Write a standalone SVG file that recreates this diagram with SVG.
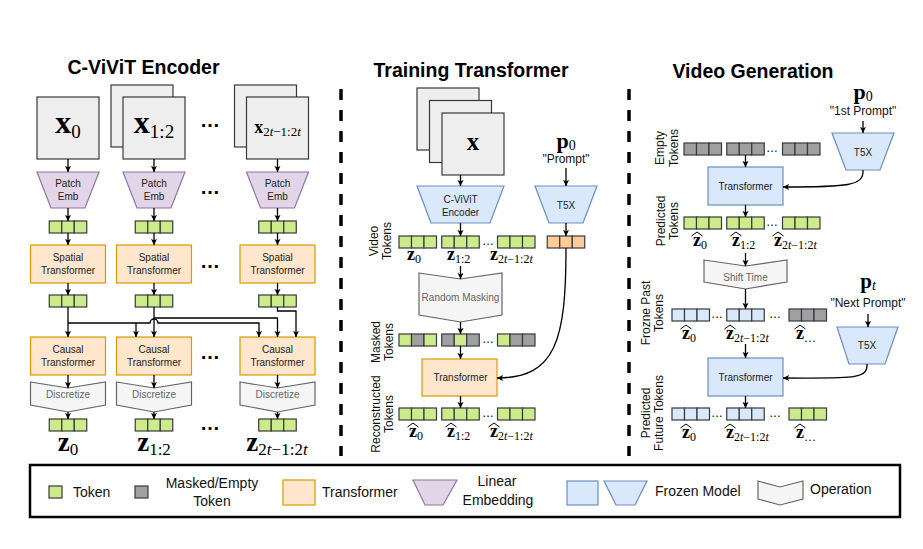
<svg xmlns="http://www.w3.org/2000/svg" width="923" height="549" viewBox="0 0 923 549">
<style>
.ttl{font-family:"Liberation Sans",Arial,sans-serif;font-weight:bold;font-size:19.5px;fill:#000;text-anchor:middle}
.t{font-family:"Liberation Sans",Arial,sans-serif;font-size:10px;fill:#222;text-anchor:middle}
.op{fill:#666}
.pr{font-family:"Liberation Sans",Arial,sans-serif;font-size:12px;fill:#111;text-anchor:middle}
.rl{font-family:"Liberation Sans",Arial,sans-serif;font-size:12px;fill:#111;text-anchor:middle}
.lg{font-family:"Liberation Sans",Arial,sans-serif;font-size:14px;fill:#111}
.mz{font-family:"Liberation Serif","Times New Roman",serif;font-weight:bold;font-size:18px;fill:#000}
.sb{font-weight:normal;font-size:12px}
.it{font-style:italic}
.dots{font-family:"Liberation Sans",Arial,sans-serif;font-weight:bold;font-size:20px;fill:#000;text-anchor:middle}
.sdots{font-family:"Liberation Sans",Arial,sans-serif;font-size:12px;fill:#000;text-anchor:middle}
.img{fill:#eeeeee;stroke:#36393d;stroke-width:1.2}
.cg{fill:#cdeb8b;stroke:#36393d;stroke-width:1.2}
.ck{fill:#a0a0a0;stroke:#36393d;stroke-width:1.2}
.cb{fill:#dae8fc;stroke:#36393d;stroke-width:1.2}
.co{fill:#ffcc99;stroke:#36393d;stroke-width:1.2}
.tr{fill:#ffe6cc;stroke:#d79b00;stroke-width:1.2}
.pe{fill:#e1d5e7;stroke:#9673a6;stroke-width:1.2}
.fz{fill:#dae8fc;stroke:#6c8ebf;stroke-width:1.2}
.opn{fill:#f5f5f5;stroke:#666666;stroke-width:1.2}
.ln{fill:none;stroke:#000;stroke-width:1.3;marker-end:url(#ah)}
.hat{fill:none;stroke:#000;stroke-width:1}
.sep{stroke:#000;stroke-width:3.5;stroke-dasharray:11 10}
</style>
<defs>
<marker id="ah" markerUnits="userSpaceOnUse" markerWidth="7" markerHeight="7" refX="6" refY="3" orient="auto">
<path d="M0,0 L6,3 L0,6 L1.2,3 z" fill="#000"/>
</marker>
<g id="tg"><rect class="cg" x="0" y="0" width="12.5" height="12"/><rect class="cg" x="12.5" y="0" width="12.5" height="12"/><rect class="cg" x="25" y="0" width="12.5" height="12"/></g>
<g id="tk"><rect class="ck" x="0" y="0" width="12.5" height="12"/><rect class="ck" x="12.5" y="0" width="12.5" height="12"/><rect class="ck" x="25" y="0" width="12.5" height="12"/></g>
<g id="tb"><rect class="cb" x="0" y="0" width="12.5" height="12"/><rect class="cb" x="12.5" y="0" width="12.5" height="12"/><rect class="cb" x="25" y="0" width="12.5" height="12"/></g>
<g id="to"><rect class="co" x="0" y="0" width="12.5" height="12"/><rect class="co" x="12.5" y="0" width="12.5" height="12"/><rect class="co" x="25" y="0" width="12.5" height="12"/></g>
<rect id="c1g" class="cg" x="0" y="0" width="12.5" height="12"/>
<rect id="c1k" class="ck" x="0" y="0" width="12.5" height="12"/>
<polyline id="hat" class="hat" points="0,4 5.5,0 11,4"/>
</defs>

<!-- separators -->
<line class="sep" x1="341" y1="89" x2="341" y2="456"/>
<line class="sep" x1="629" y1="89" x2="629" y2="456"/>

<!-- titles -->
<text class="ttl" x="143.5" y="74">C-ViViT Encoder</text>
<text class="ttl" x="471" y="77">Training Transformer</text>
<text class="ttl" x="753" y="78">Video Generation</text>

<!-- ===== Left panel: C-ViViT Encoder ===== -->
<g id="img0"><rect class="img" x="37" y="97" width="62" height="62"/>
<text class="mz" x="68" y="133" text-anchor="middle" style="font-size:32px">x<tspan class="sb" style="font-size:19px" dy="5">0</tspan></text></g>
<g id="img12"><rect class="img" x="111" y="85" width="62" height="62"/><rect class="img" x="123" y="97" width="62" height="62"/>
<text class="mz" x="154" y="133" text-anchor="middle" style="font-size:32px">x<tspan class="sb" style="font-size:19px" dy="5">1:2</tspan></text></g>
<g id="img2t"><rect class="img" x="234.5" y="85" width="62" height="62"/><rect class="img" x="246.5" y="97" width="62" height="62"/>
<text class="mz" x="277.5" y="133" text-anchor="middle">x<tspan class="sb" style="font-size:13px" dy="3">2<tspan class="it">t</tspan>−1:2<tspan class="it">t</tspan></tspan></text></g>

<g id="pe0"><polygon class="pe" points="37,172 99,172 85,208 51,208"/><text class="t" x="68" y="187">Patch</text><text class="t" x="68" y="200">Emb</text></g>
<g id="pe12"><polygon class="pe" points="123,172 185,172 171,208 137,208"/><text class="t" x="154" y="187">Patch</text><text class="t" x="154" y="200">Emb</text></g>
<g id="pe2t"><polygon class="pe" points="246.5,172 308.5,172 294.5,208 260.5,208"/><text class="t" x="277.5" y="187">Patch</text><text class="t" x="277.5" y="200">Emb</text></g>

<g id="tokA"><use href="#tg" x="49.25" y="221"/><use href="#tg" x="135.25" y="221"/><use href="#tg" x="258.75" y="221"/></g>

<g id="sp0"><rect class="tr" x="30.5" y="245" width="75" height="38"/><text class="t" x="68" y="260.8">Spatial</text><text class="t" x="68" y="273.8">Transformer</text></g>
<g id="sp12"><rect class="tr" x="116.5" y="245" width="75" height="38"/><text class="t" x="154" y="260.8">Spatial</text><text class="t" x="154" y="273.8">Transformer</text></g>
<g id="sp2t"><rect class="tr" x="240" y="245" width="75" height="38"/><text class="t" x="277.5" y="260.8">Spatial</text><text class="t" x="277.5" y="273.8">Transformer</text></g>

<g id="tokB"><use href="#tg" x="49.25" y="295"/><use href="#tg" x="135.25" y="295"/><use href="#tg" x="258.75" y="295"/></g>

<g id="ca0"><rect class="tr" x="30.5" y="337" width="75" height="38"/><text class="t" x="68" y="352.8">Causal</text><text class="t" x="68" y="365.8">Transformer</text></g>
<g id="ca12"><rect class="tr" x="116.5" y="337" width="75" height="38"/><text class="t" x="154" y="352.8">Causal</text><text class="t" x="154" y="365.8">Transformer</text></g>
<g id="ca2t"><rect class="tr" x="240" y="337" width="75" height="38"/><text class="t" x="277.5" y="352.8">Causal</text><text class="t" x="277.5" y="365.8">Transformer</text></g>

<g id="di0"><polygon class="opn" points="30.5,382 68,388 105.5,382 105.5,405 68,412 30.5,405"/><text class="t op" x="68" y="398">Discretize</text></g>
<g id="di12"><polygon class="opn" points="116.5,382 154,388 191.5,382 191.5,405 154,412 116.5,405"/><text class="t op" x="154" y="398">Discretize</text></g>
<g id="di2t"><polygon class="opn" points="240,382 277.5,388 315,382 315,405 277.5,412 240,405"/><text class="t op" x="277.5" y="398">Discretize</text></g>

<g id="tokC"><use href="#tg" x="49.25" y="419"/><use href="#tg" x="135.25" y="419"/><use href="#tg" x="258.75" y="419"/></g>
<g id="zlabels">
<text class="mz" x="68" y="451" text-anchor="middle" style="font-size:27px">z<tspan class="sb" style="font-size:17px" dy="4">0</tspan></text>
<text class="mz" x="154" y="451" text-anchor="middle" style="font-size:27px">z<tspan class="sb" style="font-size:17px" dy="4">1:2</tspan></text>
<text class="mz" x="277" y="451" text-anchor="middle" style="font-size:27px">z<tspan class="sb" style="font-size:17px" dy="4">2<tspan class="it">t</tspan>−1:2<tspan class="it">t</tspan></tspan></text>
</g>
<g id="ldots">
<text class="dots" x="210" y="127">…</text>
<text class="dots" x="210" y="194">…</text>
<text class="dots" x="210" y="268">…</text>
<text class="dots" x="210" y="359">…</text>
<text class="dots" x="210" y="430">…</text>
</g>

<!-- ===== Middle panel ===== -->
<g id="mimg"><rect class="img" x="417" y="88" width="62" height="62"/><rect class="img" x="429.5" y="100.5" width="62" height="62"/><rect class="img" x="442" y="113" width="62" height="62"/>
<text class="mz" x="473" y="150" text-anchor="middle" style="font-size:25px">x</text></g>
<g id="enc"><polygon class="fz" points="417,186 504,186 490,223 431,223"/><text class="t" x="460.5" y="203">C-ViViT</text><text class="t" x="460.5" y="215.5">Encoder</text></g>
<g id="p0m"><text class="mz" x="566" y="148" text-anchor="middle" style="font-size:22px">p<tspan class="sb" style="font-size:14px" dy="2">0</tspan></text>
<text class="pr" x="566" y="163">"Prompt"</text></g>
<g id="t5xm"><polygon class="fz" points="535,186 597,186 583,223 549,223"/><text class="t" x="566" y="208.5">T5X</text></g>

<g id="vtok"><use href="#tg" x="399" y="236"/><use href="#tg" x="441.75" y="236"/><use href="#tg" x="497.5" y="236"/><use href="#to" x="547.25" y="236"/>
<text class="sdots" x="488" y="244.5">…</text>
<text class="rl" transform="translate(378,241) rotate(-90)"><tspan x="0" y="0">Video</tspan><tspan x="0" y="13">Tokens</tspan></text>
<text class="mz" x="407" y="260">z<tspan class="sb" dy="3">0</tspan></text>
<text class="mz" x="447" y="260">z<tspan class="sb" dy="3">1:2</tspan></text>
<text class="mz" x="490" y="260">z<tspan class="sb" dy="3">2<tspan class="it">t</tspan>−1:2<tspan class="it">t</tspan></tspan></text>
</g>
<g id="rmask"><polygon class="opn" points="419,273 460.5,279 502,273 502,315 460.5,322 419,315"/><text class="t op" x="460.5" y="300.5">Random Masking</text></g>
<g id="mtok"><use href="#c1g" x="399" y="334"/><use href="#c1k" x="411.5" y="334"/><use href="#c1g" x="424" y="334"/>
<use href="#c1k" x="441.75" y="334"/><use href="#c1g" x="454.25" y="334"/><use href="#c1k" x="466.75" y="334"/>
<use href="#c1g" x="497.5" y="334"/><use href="#c1k" x="510" y="334"/><use href="#c1k" x="522.5" y="334"/>
<text class="sdots" x="488" y="342.5">…</text>
<text class="rl" transform="translate(380,342) rotate(-90)"><tspan x="0" y="0">Masked</tspan><tspan x="0" y="12.5">Tokens</tspan></text>
</g>
<g id="mtrans"><rect class="tr" x="422" y="359" width="75" height="37"/><text class="t" x="460.5" y="381">Transformer</text></g>
<g id="rtok"><use href="#tg" x="399" y="408"/><use href="#tg" x="441.75" y="408"/><use href="#tg" x="497.5" y="408"/>
<text class="sdots" x="488" y="416.5">…</text>
<text class="rl" transform="translate(380,414) rotate(-90)"><tspan x="0" y="0">Reconstructed</tspan><tspan x="0" y="12.5">Tokens</tspan></text>
<use href="#hat" x="407.5" y="423"/><text class="mz" x="409" y="437">z<tspan class="sb" dy="3">0</tspan></text>
<use href="#hat" x="445.5" y="423"/><text class="mz" x="447" y="437">z<tspan class="sb" dy="3">1:2</tspan></text>
<use href="#hat" x="488.5" y="423"/><text class="mz" x="490" y="437">z<tspan class="sb" dy="3">2<tspan class="it">t</tspan>−1:2<tspan class="it">t</tspan></tspan></text>
</g>

<!-- ===== Right panel ===== -->
<g id="p0r"><text class="mz" x="863" y="99" text-anchor="middle" style="font-size:22px">p<tspan class="sb" style="font-size:14px" dy="2">0</tspan></text>
<text class="pr" x="863" y="115">"1st Prompt"</text></g>
<g id="t5x1"><polygon class="fz" points="832,133 894,133 880,170 846,170"/><text class="t" x="863" y="156">T5X</text></g>
<g id="etok"><use href="#tk" x="684" y="143"/><use href="#tk" x="726.75" y="143"/><use href="#tk" x="782.5" y="143"/>
<text class="sdots" x="772" y="151.5">…</text>
<text class="rl" transform="translate(664,148) rotate(-90)"><tspan x="0" y="0">Empty</tspan><tspan x="0" y="14">Tokens</tspan></text>
</g>
<g id="gtrans1"><rect class="fz" x="708" y="167" width="75" height="38"/><text class="t" x="745.5" y="189.6">Transformer</text></g>
<g id="ptok"><use href="#tg" x="684" y="217"/><use href="#tg" x="726.75" y="217"/><use href="#tg" x="782.5" y="217"/>
<text class="sdots" x="772" y="225.5">…</text>
<text class="rl" transform="translate(665,221) rotate(-90)"><tspan x="0" y="0">Predicted</tspan><tspan x="0" y="13">Tokens</tspan></text>
<use href="#hat" x="691.5" y="232"/><text class="mz" x="693" y="246">z<tspan class="sb" dy="3">0</tspan></text>
<use href="#hat" x="730.5" y="232"/><text class="mz" x="732" y="246">z<tspan class="sb" dy="3">1:2</tspan></text>
<use href="#hat" x="772.5" y="232"/><text class="mz" x="774" y="246">z<tspan class="sb" dy="3">2<tspan class="it">t</tspan>−1:2<tspan class="it">t</tspan></tspan></text>
</g>
<g id="shift"><polygon class="opn" points="704,260 745.5,266 787,260 787,282 745.5,289 704,282"/><text class="t op" x="745.5" y="281">Shift Time</text></g>
<g id="ptp"><text class="mz" x="868" y="288" text-anchor="middle" style="font-size:21px">p<tspan class="sb it" style="font-size:14px" dy="2">t</tspan></text>
<text class="pr" x="868" y="307">"Next Prompt"</text></g>
<g id="t5x2"><polygon class="fz" points="837,327 898,327 885,364 849,364"/><text class="t" x="867" y="348.5">T5X</text></g>
<g id="ftok"><use href="#tb" x="672" y="309"/><use href="#tb" x="726.75" y="309"/><use href="#tk" x="789" y="309"/>
<text class="sdots" x="717" y="317.5">…</text><text class="sdots" x="775" y="317.5">…</text>
<text class="rl" transform="translate(650,313) rotate(-90)"><tspan x="0" y="0">Frozne Past</tspan><tspan x="0" y="13">Tokens</tspan></text>
<use href="#hat" x="680.5" y="325"/><text class="mz" x="682" y="339">z<tspan class="sb" dy="3">0</tspan></text>
<use href="#hat" x="724.5" y="325"/><text class="mz" x="726" y="339">z<tspan class="sb" dy="3">2<tspan class="it">t</tspan>−1:2<tspan class="it">t</tspan></tspan></text>
<use href="#hat" x="794.5" y="325"/><text class="mz" x="796" y="339">z<tspan class="sb" dy="3">…</tspan></text>
</g>
<g id="gtrans2"><rect class="fz" x="708" y="358" width="75" height="38"/><text class="t" x="745.5" y="380.6">Transformer</text></g>
<g id="futok"><use href="#tb" x="672" y="408"/><use href="#tb" x="726.75" y="408"/><use href="#tg" x="789" y="408"/>
<text class="sdots" x="717" y="416.5">…</text><text class="sdots" x="775" y="416.5">…</text>
<text class="rl" transform="translate(650,413) rotate(-90)"><tspan x="0" y="0">Predicted</tspan><tspan x="0" y="13">Future Tokens</tspan></text>
<use href="#hat" x="680.5" y="424"/><text class="mz" x="682" y="438">z<tspan class="sb" dy="3">0</tspan></text>
<use href="#hat" x="724.5" y="424"/><text class="mz" x="726" y="438">z<tspan class="sb" dy="3">2<tspan class="it">t</tspan>−1:2<tspan class="it">t</tspan></tspan></text>
<use href="#hat" x="794.5" y="424"/><text class="mz" x="796" y="438">z<tspan class="sb" dy="3">…</tspan></text>
</g>

<!-- ===== Connectors ===== -->
<g id="connectors">
<!-- left -->
<path class="ln" d="M68,159 V172"/><path class="ln" d="M154,159 V172"/><path class="ln" d="M277.5,159 V172"/>
<path class="ln" d="M68,208 V221"/><path class="ln" d="M154,208 V221"/><path class="ln" d="M277.5,208 V221"/>
<path class="ln" d="M68,233 V245"/><path class="ln" d="M154,233 V245"/><path class="ln" d="M277.5,233 V245"/>
<path class="ln" d="M68,283 V295"/><path class="ln" d="M154,283 V295"/><path class="ln" d="M277.5,283 V295"/>
<path class="ln" d="M68,307 V337"/>
<path class="ln" d="M68,323 H150 A4,4 0 0 1 158,323 H259 V337"/>
<path class="ln" d="M136,323 V337"/>
<path class="ln" d="M154,307 V337"/>
<path class="ln" d="M154,318 H277.5 V337"/>
<path class="ln" d="M277.5,307 V311 H296 V337"/>
<path class="ln" d="M68,375 V388"/><path class="ln" d="M154,375 V388"/><path class="ln" d="M277.5,375 V388"/>
<path class="ln" d="M68,412 V419"/><path class="ln" d="M154,412 V419"/><path class="ln" d="M277.5,412 V419"/>
<!-- middle -->
<path class="ln" d="M460.5,175 V186"/>
<path class="ln" d="M460.5,223 V236"/>
<path class="ln" d="M566,168 V186"/>
<path class="ln" d="M566,223 V236"/>
<path class="ln" d="M460.5,266 V279"/>
<path class="ln" d="M460.5,322 V334"/>
<path class="ln" d="M460.5,346 V359"/>
<path class="ln" d="M460.5,396 V408"/>
<path class="ln" d="M566,248 C566,340 556,378 497,378"/>
<!-- right -->
<path class="ln" d="M863,121 V133"/>
<path class="ln" d="M745.5,155 V167"/>
<path class="ln" d="M863,170 C864,186 848,187 783,187"/>
<path class="ln" d="M745.5,205 V217"/>
<path class="ln" d="M745.5,253 V266"/>
<path class="ln" d="M745.5,289 V309"/>
<path class="ln" d="M868,314 V327"/>
<path class="ln" d="M745.5,344 V358"/>
<path class="ln" d="M867,364 C868,380 850,378 783,378"/>
<path class="ln" d="M745.5,396 V408"/>
</g>

<!-- ===== Legend ===== -->
<g id="legend">
<rect x="30" y="465" width="870" height="52" fill="#fff" stroke="#000" stroke-width="2.5"/>
<rect class="cg" x="49" y="486" width="13" height="12"/>
<text class="lg" x="73" y="497">Token</text>
<rect class="ck" x="135" y="486" width="13" height="12"/>
<text class="lg" x="212" y="488" text-anchor="middle">Masked/Empty</text>
<text class="lg" x="212" y="506" text-anchor="middle">Token</text>
<rect class="tr" x="283" y="480" width="32" height="25"/>
<text class="lg" x="322" y="497">Transformer</text>
<polygon class="pe" points="413,480 457,480 443,505 425,505"/>
<text class="lg" x="497" y="486" text-anchor="middle">Linear</text>
<text class="lg" x="498" y="505" text-anchor="middle">Embedding</text>
<rect class="fz" x="567" y="481" width="31" height="24"/>
<polygon class="fz" points="604,481 647,481 635,505 616,505"/>
<text class="lg" x="655" y="496">Frozen Model</text>
<polygon class="opn" points="758,481 780,487 803,481 803,499 780,505 758,499"/>
<text class="lg" x="810" y="494">Operation</text>
</g>
</svg>
